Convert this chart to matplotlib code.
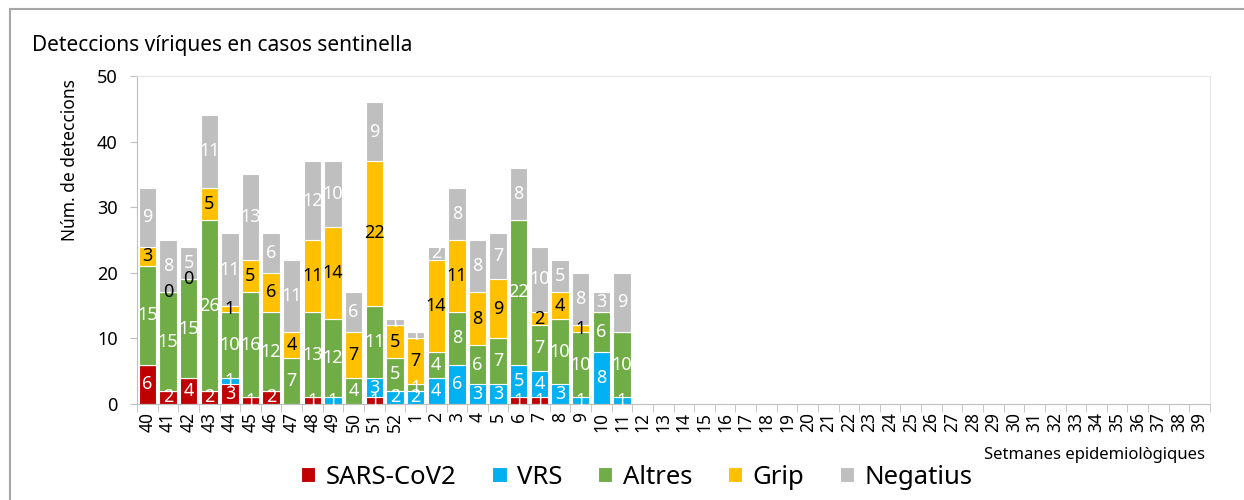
import numpy as np
import matplotlib
matplotlib.use("Agg")
import matplotlib.pyplot as plt
from matplotlib.patches import Rectangle

plt.rcParams['font.family'] = ['Noto Sans', 'DejaVu Sans']

nan = np.nan
weeks = [str(w) for w in list(range(40, 53)) + list(range(1, 40))]

# values per week (weeks with data: 40..52, 1..11); nan = no label drawn
sars = [6, 2, 4, 2, 3, 1, 2, nan, 1, nan, nan, 1, nan, nan, nan, nan, nan, nan, 1, 1, nan, nan, nan, nan]
vrs = [nan, nan, nan, nan, 1, nan, nan, nan, nan, 1, nan, 3, 2, 2, 4, 6, 3, 3, 5, 4, 3, 1, 8, 1]
altres = [15, 15, 15, 26, 10, 16, 12, 7, 13, 12, 4, 11, 5, 1, 4, 8, 6, 7, 22, 7, 10, 10, 6, 10]
grip = [3, 0, 0, 5, 1, 5, 6, 4, 11, 14, 7, 22, 5, 7, 14, 11, 8, 9, nan, 2, 4, 1, nan, nan]
negatius = [9, 8, 5, 11, 11, 13, 6, 11, 12, 10, 6, 9, 1, 1, 2, 8, 8, 7, 8, 10, 5, 8, 3, 9]

series = [("SARS-CoV2", sars, "#C00000", "white"),
          ("VRS", vrs, "#00B0F0", "white"),
          ("Altres", altres, "#70AD47", "white"),
          ("Grip", grip, "#FFC000", "black"),
          ("Negatius", negatius, "#BFBFBF", "white")]

fig = plt.figure(figsize=(12.44, 5.0), dpi=100)
ax = fig.add_axes([137/1244, 1-404/500, (1210-137)/1244, 328/500])

x = np.arange(len(weeks))
bottom = np.zeros(len(weeks))
for name, vals, col, tcol in series:
    v = np.zeros(len(weeks))
    v[:len(vals)] = np.nan_to_num(np.array(vals, dtype=float))
    bars = ax.bar(x, v, 0.84, bottom=bottom, color=col, edgecolor="white", linewidth=0.8, label=name)
    for i, val in enumerate(vals):
        if not np.isnan(val):
            t = ax.text(i, bottom[i] + val/2, f"{int(val)}", ha="center", va="center",
                        color=tcol, fontsize=13, zorder=5)
            # small segments only show part of their label
            if val > 0 and val < 2:
                t.set_clip_path(bars[i])
    bottom += v

ax.set_xlim(-0.5, len(weeks)-0.5)
ax.set_ylim(0, 50)
ax.set_yticks(range(0, 51, 10))
ax.set_xticks(x)
ax.set_xticklabels(weeks, rotation=90, fontsize=12.5)
ax.set_xticks(np.arange(-0.5, len(weeks)), minor=True)
ax.tick_params(axis="x", which="major", length=0, pad=6)
ax.tick_params(axis="x", which="minor", length=6, color="#BFBFBF")
ax.tick_params(axis="y", length=5, color="#BFBFBF", labelsize=13, pad=9)
for s in ["left", "bottom"]:
    ax.spines[s].set_color("#BFBFBF")
for s in ["top", "right"]:
    ax.spines[s].set_color("#E6E6E6")

fig.text(32/1244, 1-45/500, "Deteccions víriques en casos sentinella", fontsize=15, va="center")
fig.text(70/1244, 1-160/500, "Núm. de deteccions", rotation=90, fontsize=12.5, ha="center", va="center")
fig.text(1205/1244, 1-455/500, "Setmanes epidemiològiques", fontsize=12, ha="right", va="center")

fig.legend(loc="center", bbox_to_anchor=(637/1244, 1-477/500), ncol=5, frameon=False,
           fontsize=18.5, handlelength=0.55, handleheight=0.55, handletextpad=0.4, columnspacing=1.4)

fig.patches.append(Rectangle((10/1244, -0.05), 1.1, 1.05-9/500, transform=fig.transFigure,
                             fill=False, edgecolor="#A6A6A6", linewidth=1.5))

fig.savefig("out.png", dpi=100)
